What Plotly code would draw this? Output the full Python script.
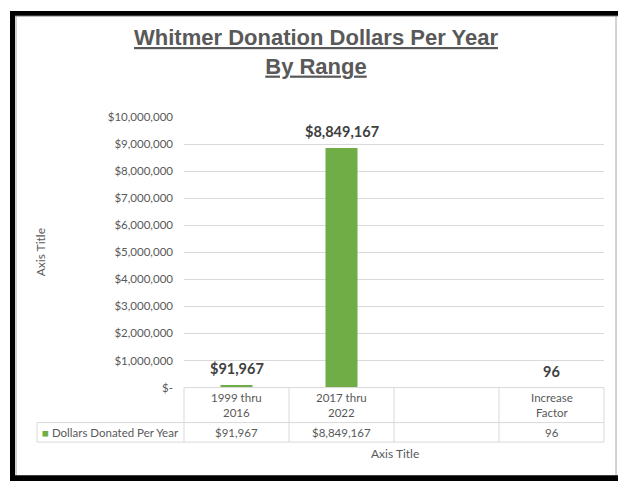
import plotly.graph_objects as go

# ---- data ----
categories = ["1999 thru 2016", "2017 thru 2022", "", "Increase Factor"]
category_labels = ["1999 thru<br>2016", "2017 thru<br>2022", "", "Increase<br>Factor"]
values = [91967, 8849167, None, 96]
is_dollar = [True, True, False, False]
series_name = "Dollars Donated Per Year"
y_ticks = [0, 1000000, 2000000, 3000000, 4000000, 5000000,
           6000000, 7000000, 8000000, 9000000, 10000000]

W, H = 618, 487
GREEN = "#70ad47"
GRAY = "#595959"
LINE = "#d9d9d9"
FONT = "Lato"


def px(x):
    return x / W


def py(y):
    return 1 - y / H


def fmt(v, dollar):
    if v is None:
        return ""
    return ("$" if dollar else "") + f"{v:,.0f}"


tick_text = ["$-" if t == 0 else f"${t:,.0f}" for t in y_ticks]
value_text = [fmt(v, d) for v, d in zip(values, is_dollar)]

# plot area in pixels
X0, X1 = 184, 604
Y_TOP, Y_BOT = 113, 391
ROW1, ROW2 = 427, 447
LEG_X = 37

fig = go.Figure()
fig.add_trace(go.Bar(
    x=categories, y=values, name=series_name,
    marker=dict(color=GREEN, line=dict(width=0)),
    hoverinfo="skip", showlegend=False,
))

annotations = []
# data labels above bars
for c, v, t in zip(categories, values, value_text):
    if v is None:
        continue
    annotations.append(dict(
        x=c, y=v, xref="x", yref="y", text=f"<b>{t}</b>", showarrow=False,
        yanchor="bottom", yshift=6,
        font=dict(family=FONT, size=14.5, color="#404040"),
    ))
# category labels (table header row)
for c, lab in zip(categories, category_labels):
    annotations.append(dict(
        x=c, y=py((Y_BOT + ROW1) / 2), xref="x", yref="paper", text=lab,
        showarrow=False, yanchor="middle",
        font=dict(family=FONT, size=11.5, color=GRAY),
    ))
# data row
for c, t in zip(categories, value_text):
    annotations.append(dict(
        x=c, y=py((ROW1 + ROW2) / 2), xref="x", yref="paper", text=t,
        showarrow=False, yanchor="middle",
        font=dict(family=FONT, size=11.5, color=GRAY),
    ))
# legend cell
annotations.append(dict(
    x=px(LEG_X + 3), y=py((ROW1 + ROW2) / 2), xref="paper", yref="paper",
    text=f'<span style="color:{GREEN}">■</span> {series_name}',
    showarrow=False, xanchor="left", yanchor="middle",
    font=dict(family=FONT, size=11.5, color=GRAY),
))
# axis titles
annotations.append(dict(
    x=px(395), y=py(459), xref="paper", yref="paper", text="Axis Title",
    showarrow=False, xanchor="center", yanchor="middle",
    font=dict(family=FONT, size=12, color=GRAY),
))
annotations.append(dict(
    x=px(40), y=py(252), xref="paper", yref="paper", text="Axis Title",
    showarrow=False, xanchor="center", yanchor="middle", textangle=-90,
    font=dict(family=FONT, size=12, color=GRAY),
))

shapes = []


def hline(x0, x1, y, color=LINE, w=1):
    shapes.append(dict(type="line", xref="paper", yref="paper",
                       x0=px(x0), x1=px(x1), y0=py(y), y1=py(y),
                       line=dict(color=color, width=w)))


def vline(x, y0, y1, color=LINE, w=1):
    shapes.append(dict(type="line", xref="paper", yref="paper",
                       x0=px(x), x1=px(x), y0=py(y0), y1=py(y1),
                       line=dict(color=color, width=w)))


# table grid
col_w = (X1 - X0) / len(categories)
hline(X0, X1, Y_BOT)
hline(LEG_X, X1, ROW1)
hline(LEG_X, X1, ROW2)
for i in range(len(categories) + 1):
    vline(X0 + i * col_w, Y_BOT, ROW2)
vline(LEG_X, ROW1, ROW2)

# chart frame (thin gray) and black outer border
vline(16, 9, 481, color="#a6a6a6")
hline(15, 618, 9.5, color="#a6a6a6")
vline(616, 9, 481, color="#a6a6a6")
for (x0, y0, x1, y1) in [(10, 4, 618, 9), (10, 4, 15, 487), (10, 481, 618, 487)]:
    shapes.append(dict(type="rect", xref="paper", yref="paper",
                       x0=px(x0), x1=px(x1), y0=py(y0), y1=py(y1),
                       fillcolor="black", line=dict(width=0), layer="above"))

fig.update_layout(
    width=W, height=H,
    margin=dict(l=0, r=0, t=0, b=0),
    paper_bgcolor="white", plot_bgcolor="white",
    title=dict(
        text="<b><u>Whitmer Donation Dollars Per Year</u></b><br><b><u>By Range</u></b>",
        x=px(316), xanchor="center", xref="paper",
        y=py(45), yanchor="middle", yref="container",
        font=dict(family="Liberation Sans", size=22, color=GRAY),
    ),
    xaxis=dict(
        type="category", categoryorder="array", categoryarray=categories,
        domain=[px(X0), px(X1)], range=[-0.5, len(categories) - 0.5],
        showticklabels=False, showgrid=False, zeroline=False, showline=False,
        fixedrange=True,
    ),
    yaxis=dict(
        domain=[py(Y_BOT), py(Y_TOP)], range=[0, y_ticks[-1]],
        tickvals=y_ticks, ticktext=tick_text,
        showgrid=True, gridcolor=LINE, gridwidth=1,
        zeroline=False, showline=False, ticks="",
        ticklabelstandoff=10,
        tickfont=dict(family=FONT, size=11.5, color=GRAY),
        fixedrange=True,
    ),
    bargap=0.695,
    annotations=annotations,
    shapes=shapes,
)

fig.write_html(
    "out.html",
    config={"displayModeBar": False},
    post_script="document.body.style.margin='0';document.body.style.overflow='hidden';",
)
